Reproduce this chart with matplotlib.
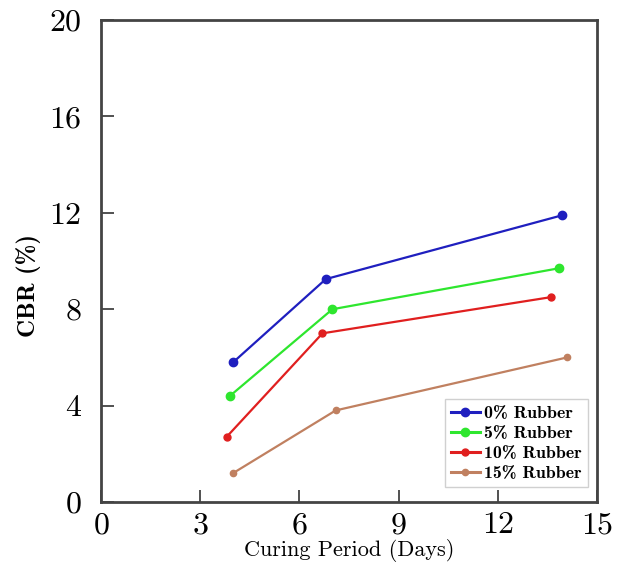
import numpy as np
import matplotlib.pyplot as plt

# Figure dpi
dpi = 100

# curing period (days) and CBR (%)
days_0 = [4.0, 6.8, 13.95]
cbr_0 = [5.8, 9.25, 11.9]
days_5 = [3.9, 7.0, 13.85]
cbr_5 = [4.4, 8.0, 9.7]
days_10 = [3.8, 6.7, 13.6]
cbr_10 = [2.7, 7.0, 8.5]
days_15 = [4.0, 7.1, 14.1]
cbr_15 = [1.2, 3.8, 6.0]

labels = ['0% Rubber', '5% Rubber', '10% Rubber', '15% Rubber']
colors = ['#1f1fbf', '#2ee62e', '#e01f1f', '#c08060']

plt.rcParams['font.family'] = 'serif'
plt.rcParams['font.serif'] = ['cmr10', 'DejaVu Serif']
plt.rcParams['axes.formatter.use_mathtext'] = True

fig = plt.figure(figsize=(627/dpi, 575/dpi), dpi=dpi)
ax = fig.add_axes([0.161, 0.127, 0.791, 0.838])

series = [(days_0, cbr_0), (days_5, cbr_5), (days_10, cbr_10), (days_15, cbr_15)]
sizes = [6, 6, 5, 4.5]
for (x, y), lab, c, ms in zip(series, labels, colors, sizes):
    ax.plot(x, y, color=c, lw=1.6, marker='o', ms=ms, label=lab)

ax.set_xlim(0, 15)
ax.set_ylim(0, 20)
ax.set_xticks([0, 3, 6, 9, 12, 15])
ax.set_yticks([0, 4, 8, 12, 16, 20])
ax.tick_params(direction='in', length=9, width=1.2, labelsize=23,
               top=False, right=False, color='#333333')
ax.tick_params(axis='y', pad=14)
ax.tick_params(axis='x', pad=7)
for s in ax.spines.values():
    s.set_linewidth(2)
    s.set_color('#444444')

ax.set_xlabel('Curing Period (Days)', fontsize=16, labelpad=0)
ax.set_ylabel('CBR (%)', fontsize=18, fontfamily='cmb10')
ax.yaxis.set_label_coords(-0.121, 0.45)

leg = ax.legend(loc='lower right', handlelength=1.6,
                handletextpad=0.25, borderpad=0.35, labelspacing=0.25,
                borderaxespad=0, bbox_to_anchor=(0.982, 0.031),
                fancybox=False, edgecolor='#d0d0d0', framealpha=1,
                prop={'family': 'cmb10', 'size': 12.8})
leg.get_frame().set_linewidth(1)
for h in leg.get_lines():
    h.set_linewidth(2.2)

plt.savefig('out.png', dpi=dpi)
